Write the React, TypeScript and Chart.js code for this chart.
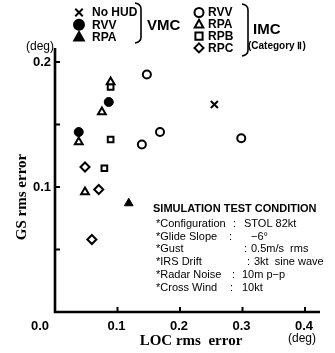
import React, { useEffect, useRef } from 'react';
import { Chart, registerables } from 'chart.js';

Chart.register(...registerables);

// ---- data (LOC rms error [deg], GS rms error [deg]) ----
const vmcNoHud = [{ x: 0.255, y: 0.166 }];
const vmcRvv = [{ x: 0.086, y: 0.168 }, { x: 0.038, y: 0.144 }];
const vmcRpa = [{ x: 0.118, y: 0.087 }];
const imcRvv = [{ x: 0.147, y: 0.19 }, { x: 0.168, y: 0.144 }, { x: 0.139, y: 0.134 }, { x: 0.298, y: 0.139 }];
const imcRpa = [{ x: 0.089, y: 0.184 }, { x: 0.075, y: 0.16 }, { x: 0.038, y: 0.136 }, { x: 0.048, y: 0.096 }];
const imcRpb = [{ x: 0.089, y: 0.18 }, { x: 0.089, y: 0.138 }, { x: 0.079, y: 0.115 }];
const imcRpc = [{ x: 0.048, y: 0.116 }, { x: 0.07, y: 0.098 }, { x: 0.059, y: 0.058 }];

const xTickValues = [0.0, 0.1, 0.2, 0.3, 0.4];
const xTickLabels = ['0.0', '0.1', '0.2', '0.3', '0.4'];
const yTickMarks = [0.05, 0.1, 0.15, 0.2];
const yTickValues = [0.1, 0.2];
const yTickLabels = ['0.1', '0.2'];

const vmcLegend = ['No HUD', 'RVV', 'RPA'];
const imcLegend = ['RVV', 'RPA', 'RPB', 'RPC'];
const condTitle = 'SIMULATION TEST CONDITION';
const condLabels = ['*Configuration', '*Glide Slope', '*Gust', '*IRS Drift', '*Radar Noise', '*Cross Wind'];
const condValues = ['STOL 82kt', '\u22126\u00b0', '0.5m/s  rms', '3kt  sine wave', '10m p\u2212p', '10kt'];

const SANS = '"Liberation Sans", Arial, sans-serif';
const SERIF = '"Liberation Serif", "Times New Roman", serif';

function drawMarker(ctx: CanvasRenderingContext2D, style: string, cx: number, cy: number, r: number, filled: boolean) {
  ctx.save();
  ctx.lineWidth = 2;
  ctx.strokeStyle = '#000';
  ctx.fillStyle = filled ? '#000' : '#fff';
  ctx.beginPath();
  if (style === 'circle') {
    ctx.arc(cx, cy, r, 0, Math.PI * 2);
  } else if (style === 'triangle') {
    ctx.moveTo(cx, cy - r);
    ctx.lineTo(cx + r * 0.95, cy + r * 0.7);
    ctx.lineTo(cx - r * 0.95, cy + r * 0.7);
    ctx.closePath();
  } else if (style === 'rect') {
    ctx.rect(cx - r * 0.8, cy - r * 0.8, r * 1.6, r * 1.6);
  } else if (style === 'rectRot') {
    ctx.moveTo(cx, cy - r);
    ctx.lineTo(cx + r, cy);
    ctx.lineTo(cx, cy + r);
    ctx.lineTo(cx - r, cy);
    ctx.closePath();
  } else if (style === 'crossRot') {
    ctx.moveTo(cx - r * 0.75, cy - r * 0.75);
    ctx.lineTo(cx + r * 0.75, cy + r * 0.75);
    ctx.moveTo(cx + r * 0.75, cy - r * 0.75);
    ctx.lineTo(cx - r * 0.75, cy + r * 0.75);
    ctx.stroke();
    ctx.restore();
    return;
  }
  ctx.fill();
  ctx.stroke();
  ctx.restore();
}

function drawBrace(ctx: CanvasRenderingContext2D, x: number, top: number, bottom: number, w: number) {
  ctx.save();
  ctx.lineWidth = 1.6;
  ctx.strokeStyle = '#000';
  ctx.beginPath();
  ctx.moveTo(x, top);
  ctx.quadraticCurveTo(x + w, top + 1, x + w, top + 6);
  ctx.lineTo(x + w, bottom - 6);
  ctx.quadraticCurveTo(x + w, bottom - 1, x, bottom);
  ctx.stroke();
  ctx.restore();
}

const overlayPlugin = {
  id: 'overlay',
  beforeDatasetsDraw(chart: any) {
    const { ctx, scales } = chart;
    const xs = scales.x;
    const ys = scales.y;
    const X = (v: number) => xs.getPixelForValue(v);
    const Y = (v: number) => ys.getPixelForValue(v);
    ctx.save();
    ctx.strokeStyle = '#000';
    ctx.fillStyle = '#000';
    // axes
    ctx.lineWidth = 2.6;
    ctx.beginPath();
    ctx.moveTo(X(0), ys.top);
    ctx.lineTo(X(0), Y(0));
    ctx.lineTo(xs.right, Y(0));
    ctx.stroke();
    // ticks
    ctx.lineWidth = 2;
    ctx.beginPath();
    yTickMarks.forEach((v) => {
      ctx.moveTo(X(0), Y(v));
      ctx.lineTo(X(0) + 5, Y(v));
    });
    xTickValues.forEach((v) => {
      if (v === 0) return;
      ctx.moveTo(X(v), Y(0));
      ctx.lineTo(X(v), Y(0) - 5);
    });
    ctx.stroke();
    // tick labels
    ctx.font = `bold 13px ${SANS}`;
    ctx.textBaseline = 'middle';
    ctx.textAlign = 'right';
    yTickValues.forEach((v, i) => ctx.fillText(yTickLabels[i], X(0) - 4, Y(v)));
    ctx.textAlign = 'center';
    xTickValues.forEach((v, i) => {
      const px = v === 0 ? X(v) - 15 : X(v) - 1;
      ctx.fillText(xTickLabels[i], px, Y(0) + 14);
    });
    // axis titles
    ctx.font = `bold 15px ${SERIF}`;
    ctx.fillText('LOC rms  error', 191, 341);
    ctx.save();
    ctx.translate(22, 197);
    ctx.rotate(-Math.PI / 2);
    ctx.fillText('GS rms error', 0, 0);
    ctx.restore();
    ctx.font = `12px ${SANS}`;
    ctx.fillText('(deg)', 302, 339);
    ctx.fillText('(deg)', 40, 47);

    // legend VMC
    const vmcStyles = [['crossRot', false], ['circle', true], ['triangle', true]] as const;
    ctx.font = `bold 12px ${SANS}`;
    ctx.textAlign = 'left';
    vmcLegend.forEach((t, i) => {
      const cy = 12.5 + i * 12.3;
      drawMarker(ctx, vmcStyles[i][0], 79, cy, 5, vmcStyles[i][1]);
      ctx.fillText(t, 92, cy + 0.5);
    });
    drawBrace(ctx, 135, 3, 43, 6);
    ctx.font = `bold 15px ${SANS}`;
    ctx.fillText('VMC', 147, 26);

    // legend IMC
    const imcStyles = ['circle', 'triangle', 'rect', 'rectRot'];
    ctx.font = `bold 12px ${SANS}`;
    imcLegend.forEach((t, i) => {
      const cy = 12.5 + i * 11.8;
      drawMarker(ctx, imcStyles[i], 199, cy, 4.5, false);
      ctx.fillText(t, 208, cy + 0.5);
    });
    drawBrace(ctx, 242, 4, 56, 6);
    ctx.font = `bold 15px ${SANS}`;
    ctx.fillText('IMC', 253, 30);
    ctx.font = `bold 10px ${SANS}`;
    ctx.fillText('(Category \u2161)', 248, 46);

    // condition box
    ctx.font = `bold 11px ${SANS}`;
    ctx.fillText(condTitle, 153, 209, 164);
    const colonX = [233, 229, 244, 247, 232, 230];
    const valX = [244, 251, 251, 254, 242, 242];
    ctx.font = `11px ${SANS}`;
    condLabels.forEach((t, i) => {
      const cy = 224 + i * 12.7;
      ctx.fillText(t, 156, cy);
      ctx.fillText(':', colonX[i], cy);
      ctx.fillText(condValues[i], valX[i], cy, 333 - valX[i]);
    });
    ctx.restore();
  },
};

export default function App() {
  const ref = useRef<HTMLCanvasElement | null>(null);
  useEffect(() => {
    document.body.style.margin = '0';
    if (!ref.current) return;
    const open = (data: any, style: string, r: number) => ({
      data, pointStyle: style, pointRadius: r, pointBorderWidth: 2,
      pointBackgroundColor: '#fff', pointBorderColor: '#000', showLine: false,
    });
    const filled = (data: any, style: string, r: number) => ({
      data, pointStyle: style, pointRadius: r, pointBorderWidth: 1,
      pointBackgroundColor: '#000', pointBorderColor: '#000', showLine: false,
    });
    const chart = new Chart(ref.current, {
      type: 'scatter',
      data: {
        datasets: [
          { label: 'VMC No HUD', ...open(vmcNoHud, 'crossRot', 5) },
          { label: 'VMC RVV', ...filled(vmcRvv, 'circle', 4.5) },
          { label: 'VMC RPA', ...filled(vmcRpa, 'triangle', 5) },
          { label: 'IMC RVV', ...open(imcRvv, 'circle', 4) },
          { label: 'IMC RPA', ...open(imcRpa, 'triangle', 4.5) },
          { label: 'IMC RPB', ...open(imcRpb, 'rect', 4) },
          { label: 'IMC RPC', ...open(imcRpc, 'rectRot', 4.5) },
        ] as any,
      },
      options: {
        animation: false,
        responsive: false,
        maintainAspectRatio: false,
        layout: { padding: { left: 55, top: 48, right: 15, bottom: 41 } },
        plugins: { legend: { display: false }, tooltip: { enabled: false } },
        scales: {
          x: { type: 'linear', min: 0, max: 0.424, display: false },
          y: { type: 'linear', min: 0, max: 0.2112, display: false },
        },
      },
      plugins: [overlayPlugin],
    });
    return () => chart.destroy();
  }, []);
  return (
    <div style={{ width: 335, height: 353, background: '#fff' }}>
      <canvas ref={ref} width={335} height={353} style={{ display: 'block' }} />
    </div>
  );
}
